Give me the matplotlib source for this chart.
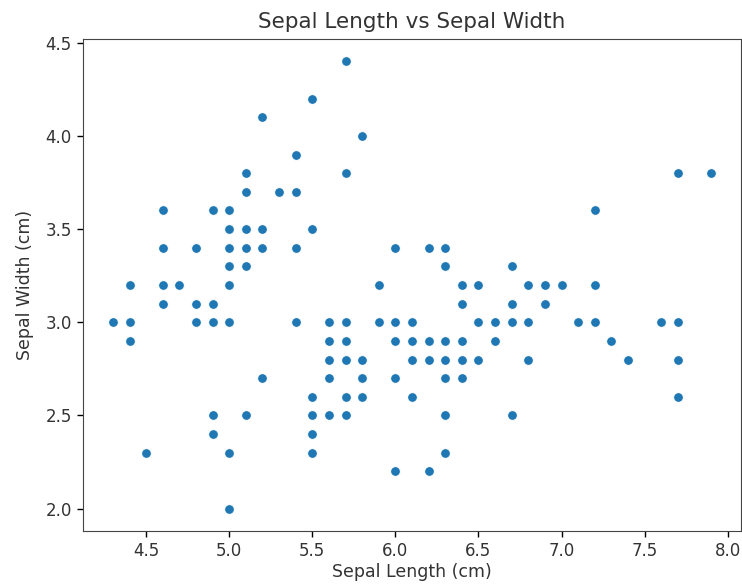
import matplotlib
matplotlib.use("Agg")
import matplotlib.pyplot as plt

# Iris sepal measurements (setosa, versicolor, virginica)
sepal_length = [
    5.1, 4.9, 4.7, 4.6, 5.0, 5.4, 4.6, 5.0, 4.4, 4.9,
    5.4, 4.8, 4.8, 4.3, 5.8, 5.7, 5.4, 5.1, 5.7, 5.1,
    5.4, 5.1, 4.6, 5.1, 4.8, 5.0, 5.0, 5.2, 5.2, 4.7,
    4.8, 5.4, 5.2, 5.5, 4.9, 5.0, 5.5, 4.9, 4.4, 5.1,
    5.0, 4.5, 4.4, 5.0, 5.1, 4.8, 5.1, 4.6, 5.3, 5.0,
    7.0, 6.4, 6.9, 5.5, 6.5, 5.7, 6.3, 4.9, 6.6, 5.2,
    5.0, 5.9, 6.0, 6.1, 5.6, 6.7, 5.6, 5.8, 6.2, 5.6,
    5.9, 6.1, 6.3, 6.1, 6.4, 6.6, 6.8, 6.7, 6.0, 5.7,
    5.5, 5.5, 5.8, 6.0, 5.4, 6.0, 6.7, 6.3, 5.6, 5.5,
    5.5, 6.1, 5.8, 5.0, 5.6, 5.7, 5.7, 6.2, 5.1, 5.7,
    6.3, 5.8, 7.1, 6.3, 6.5, 7.6, 4.9, 7.3, 6.7, 7.2,
    6.5, 6.4, 6.8, 5.7, 5.8, 6.4, 6.5, 7.7, 7.7, 6.0,
    6.9, 5.6, 7.7, 6.3, 6.7, 7.2, 6.2, 6.1, 6.4, 7.2,
    7.4, 7.9, 6.4, 6.3, 6.1, 7.7, 6.3, 6.4, 6.0, 6.9,
    6.7, 6.9, 5.8, 6.8, 6.7, 6.7, 6.3, 6.5, 6.2, 5.9,
]
sepal_width = [
    3.5, 3.0, 3.2, 3.1, 3.6, 3.9, 3.4, 3.4, 2.9, 3.1,
    3.7, 3.4, 3.0, 3.0, 4.0, 4.4, 3.9, 3.5, 3.8, 3.8,
    3.4, 3.7, 3.6, 3.3, 3.4, 3.0, 3.4, 3.5, 3.4, 3.2,
    3.1, 3.4, 4.1, 4.2, 3.1, 3.2, 3.5, 3.6, 3.0, 3.4,
    3.5, 2.3, 3.2, 3.5, 3.8, 3.0, 3.8, 3.2, 3.7, 3.3,
    3.2, 3.2, 3.1, 2.3, 2.8, 2.8, 3.3, 2.4, 2.9, 2.7,
    2.0, 3.0, 2.2, 2.9, 2.9, 3.1, 3.0, 2.7, 2.2, 2.5,
    3.2, 2.8, 2.5, 2.8, 2.9, 3.0, 2.8, 3.0, 2.9, 2.6,
    2.4, 2.4, 2.7, 2.7, 3.0, 3.4, 3.1, 2.3, 3.0, 2.5,
    2.6, 3.0, 2.6, 2.3, 2.7, 3.0, 2.9, 2.9, 2.5, 2.8,
    3.3, 2.7, 3.0, 2.9, 3.0, 3.0, 2.5, 2.9, 2.5, 3.6,
    3.2, 2.7, 3.0, 2.5, 2.8, 3.2, 3.0, 3.8, 2.6, 2.2,
    3.2, 2.8, 2.8, 2.7, 3.3, 3.2, 2.8, 3.0, 2.8, 3.0,
    2.8, 3.8, 2.8, 2.8, 2.6, 3.0, 3.4, 3.1, 3.0, 3.1,
    3.1, 3.1, 2.7, 3.2, 3.3, 3.0, 2.5, 3.0, 3.4, 3.0,
]

fig = plt.figure(figsize=(7.42, 5.88), dpi=100)
ax = fig.add_axes([83 / 742, 57 / 588, 658 / 742, 492 / 588])

ax.scatter(sepal_length, sepal_width, s=50, color="#1f77b4",
           edgecolors="white", linewidths=0.75)
ax.margins(x=0.05, y=0.05)

text_color = "#333333"
ax.set_title("Sepal Length vs Sepal Width", fontsize=15.5, color=text_color, pad=8)
ax.set_xlabel("Sepal Length (cm)", fontsize=12.5, color=text_color, labelpad=2)
ax.set_ylabel("Sepal Width (cm)", fontsize=12.5, color=text_color, labelpad=8)
ax.tick_params(labelsize=12, labelcolor=text_color, length=4.5, width=1.0)
for spine in ax.spines.values():
    spine.set_color("#444444")

fig.savefig("out.png", dpi=100)
